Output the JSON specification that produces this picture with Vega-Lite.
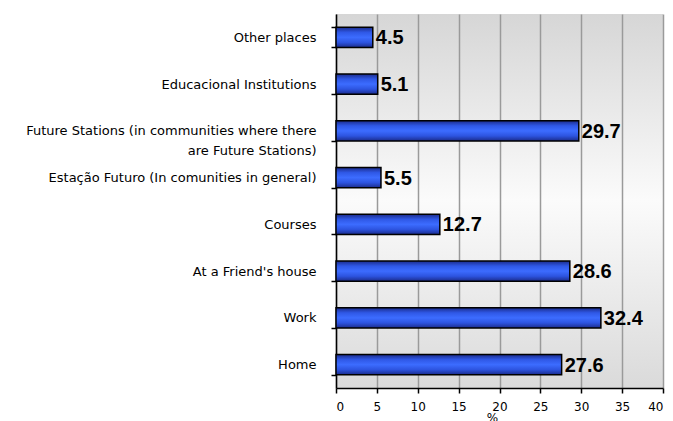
{
  "$schema": "https://vega.github.io/schema/vega-lite/v6.json",
  "width": 327,
  "height": 374,
  "autosize": "none",
  "padding": {"left": 336, "top": 14, "right": 10, "bottom": 33},
  "background": "white",
  "config": {
    "font": "Liberation Sans",
    "view": {
      "stroke": null,
      "fill": {"gradient": "linear", "x1": 0, "y1": 0, "x2": 0, "y2": 1,
        "stops": [{"offset": 0, "color": "#d6d6d6"}, {"offset": 0.5, "color": "#fbfbfb"}, {"offset": 1, "color": "#dadada"}]}
    }
  },
  "data": {
    "values": [
      {"place": "Other places", "pct": 4.5},
      {"place": "Educacional Institutions", "pct": 5.1},
      {"place": "Future Stations (in communities where there|are Future Stations)", "pct": 29.7},
      {"place": "Estação Futuro (In comunities in general)", "pct": 5.5},
      {"place": "Courses", "pct": 12.7},
      {"place": "At a Friend's house", "pct": 28.6},
      {"place": "Work", "pct": 32.4},
      {"place": "Home", "pct": 27.6}
    ]
  },
  "encoding": {
    "y": {
      "field": "place", "type": "nominal", "sort": null,
      "scale": {"paddingInner": 0.57, "paddingOuter": 0.285},
      "axis": {
        "title": null, "domainColor": "#000", "domainWidth": 1.5,
        "tickColor": "#000", "tickWidth": 1.5, "tickSize": 5, "tickBand": "extent",
        "labelFont": "DejaVu Sans", "labelFontSize": 13, "labelColor": "#000", "labelPadding": 15,
        "labelLimit": 400, "labelLineHeight": 20,
        "labelExpr": "split(datum.label, '|')"
      }
    },
    "x": {
      "field": "pct", "type": "quantitative",
      "scale": {"domain": [0, 40], "nice": false},
      "axis": {
        "title": "%", "titleFont": "DejaVu Sans", "titleFontSize": 12, "titleFontWeight": "normal", "titleColor": "#000",
        "titlePadding": 0, "titleX": 156,
        "values": [0, 5, 10, 15, 20, 25, 30, 35, 40],
        "domainColor": "#000", "domainWidth": 1.5,
        "tickColor": "#000", "tickWidth": 1.5, "tickSize": 5,
        "labelFont": "DejaVu Sans", "labelFontSize": 12, "labelColor": "#000", "labelPadding": 8,
        "grid": true, "gridColor": "#9a9a9a", "gridWidth": 1.5
      }
    }
  },
  "layer": [
    {
      "mark": {
        "type": "bar", "stroke": "#000", "strokeWidth": 1.5,
        "color": {"gradient": "linear", "x1": 0, "y1": 0, "x2": 0, "y2": 1,
          "stops": [
            {"offset": 0, "color": "#1b2c8c"},
            {"offset": 0.25, "color": "#2f58e6"},
            {"offset": 0.5, "color": "#3c6cff"},
            {"offset": 0.75, "color": "#2d54e0"},
            {"offset": 1, "color": "#1b2c8c"}
          ]}
      }
    },
    {
      "mark": {"type": "text", "align": "left", "baseline": "middle", "dx": 3, "dy": 1,
        "fontSize": 20, "fontWeight": "bold", "color": "#000"},
      "encoding": {"text": {"field": "pct", "type": "quantitative", "format": ".1f"}}
    }
  ]
}
